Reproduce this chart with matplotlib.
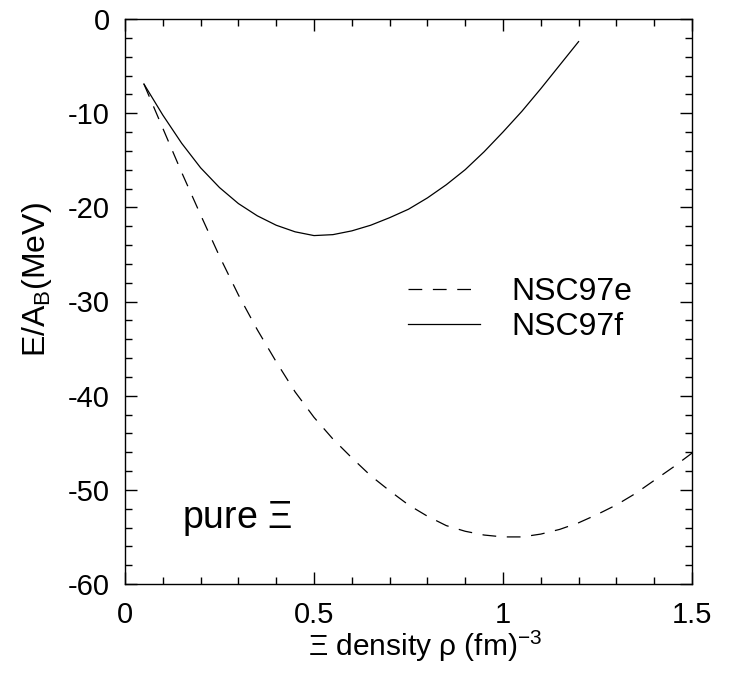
"""Energy per baryon of pure Xi matter for NSC97e and NSC97f."""

import matplotlib
matplotlib.use("Agg")
import matplotlib.pyplot as plt
from matplotlib.ticker import MultipleLocator

plt.rcParams["font.family"] = ["Liberation Sans", "DejaVu Sans"]
plt.rcParams["mathtext.fontset"] = "custom"
plt.rcParams["mathtext.rm"] = "Liberation Sans"
plt.rcParams["mathtext.it"] = "Liberation Sans"
plt.rcParams["axes.unicode_minus"] = False

# NSC97e (dashed)
rho_e = [0.05, 0.1, 0.15, 0.2, 0.25, 0.3, 0.35, 0.4, 0.45, 0.5, 0.55, 0.6,
         0.65, 0.7, 0.75, 0.8, 0.85, 0.9, 0.95, 1.0, 1.05, 1.1, 1.15, 1.2,
         1.25, 1.3, 1.35, 1.4, 1.45, 1.5]
ea_e = [-6.9, -11.6, -16.3, -20.8, -25.2, -29.3, -33.0, -36.4, -39.6, -42.3,
        -44.6, -46.6, -48.5, -50.1, -51.6, -52.8, -53.8, -54.4, -54.8, -55.0,
        -55.0, -54.7, -54.2, -53.5, -52.6, -51.6, -50.4, -49.0, -47.6, -46.1]

# NSC97f (solid)
rho_f = [0.05, 0.1, 0.15, 0.2, 0.25, 0.3, 0.35, 0.4, 0.45, 0.5, 0.55, 0.6,
         0.65, 0.7, 0.75, 0.8, 0.85, 0.9, 0.95, 1.0, 1.05, 1.1, 1.15, 1.2]
ea_f = [-6.9, -10.2, -13.2, -15.8, -17.9, -19.6, -20.9, -21.9, -22.6, -23.0,
        -22.9, -22.5, -21.9, -21.1, -20.2, -19.0, -17.6, -16.0, -14.1, -12.0,
        -9.8, -7.4, -4.9, -2.4]


def main():
    fig = plt.figure(figsize=(7.36, 6.83), dpi=100)
    ax = fig.add_axes([125 / 736, 1 - 584 / 683, 567 / 736, 565 / 683])

    ax.plot(rho_e, ea_e, color="black", linewidth=0.9, dashes=(11, 8.5),
            label="NSC97e")
    ax.plot(rho_f, ea_f, color="black", linewidth=0.9, label="NSC97f")

    ax.set_xlim(0, 1.5)
    ax.set_ylim(-60, 0)
    ax.xaxis.set_minor_locator(MultipleLocator(0.1))
    ax.yaxis.set_major_locator(MultipleLocator(10))
    ax.yaxis.set_minor_locator(MultipleLocator(2))
    ax.set_xticks([0, 0.5, 1, 1.5])
    ax.set_xticklabels(["0", "0.5", "1", "1.5"])
    ax.tick_params(which="both", direction="in", top=True, right=True,
                   labelsize=21, width=1.0)
    ax.tick_params(which="major", length=8.5)
    ax.tick_params(which="minor", length=5)
    ax.tick_params(axis="x", which="major", pad=12)
    ax.tick_params(axis="y", which="major", pad=11)
    for sp in ax.spines.values():
        sp.set_linewidth(1.0)

    ax.set_xlabel(r"$\Xi$ density $\rho$ (fm)$^{-3}$", fontsize=21.5)
    ax.xaxis.set_label_coords(0.53, -0.08)
    ax.set_ylabel(r"E/A$_{\rm B}$(MeV)", fontsize=23)
    ax.yaxis.set_label_coords(-0.125, 0.538)

    ax.text(0.1, 0.099, r"pure $\Xi$", transform=ax.transAxes, fontsize=27,
            va="baseline")

    ax.legend(loc="upper left", bbox_to_anchor=(0.499, 0.543), frameon=False,
              fontsize=23, handlelength=2.25, handletextpad=1.0,
              labelspacing=0.15, borderpad=0, borderaxespad=0)

    fig.savefig("out.png", dpi=100)


if __name__ == "__main__":
    main()
